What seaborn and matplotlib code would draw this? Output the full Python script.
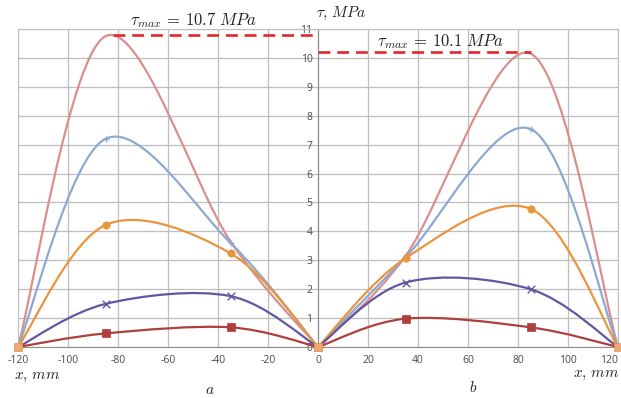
import matplotlib
matplotlib.use("Agg")
import matplotlib.pyplot as plt
import seaborn as sns
import pandas as pd
from matplotlib.path import Path
from matplotlib.patches import PathPatch

# data: panel a (left) and panel b (right)
x_left = [-120, -85, -35, 0]
x_right = [0, 35, 85, 120]

pink_left = [0, 10.75, 3.65, 0]
blue_left = [0, 7.2, 3.6, 0]
orange_left = [0, 4.22, 3.24, 0]
purple_left = [0, 1.49, 1.76, 0]
red_left = [0, 0.47, 0.68, 0]

pink_right = [0, 3.15, 10.15, 0]
blue_right = [0, 3.1, 7.54, 0]
orange_right = [0, 3.07, 4.78, 0]
purple_right = [0, 2.23, 2.0, 0]
red_right = [0, 0.98, 0.68, 0]

end_x = [-120, 0, 0, 120]
end_y = [0, 0, 0, 0]

tau_max_left = 10.8
tau_max_right = 10.2
peak_x_left = -82
peak_x_right = 85

x_ticks = list(range(-120, 121, 20))
y_ticks = list(range(0, 12))

series = [
    ("pink", "#D8908E", None, pink_left, pink_right),
    ("blue", "#8DA8D2", "+", blue_left, blue_right),
    ("orange", "#E9953D", "o", orange_left, orange_right),
    ("purple", "#6456A0", "x", purple_left, purple_right),
    ("red", "#AE3F3C", "s", red_left, red_right),
]


def smooth_path(xs, ys):
    # Excel-like smoothed line through the data points (cubic Bezier)
    pts = list(zip(xs, ys))
    n = len(pts)
    verts = [pts[0]]
    codes = [Path.MOVETO]
    for i in range(n - 1):
        p0 = pts[i - 1] if i > 0 else pts[i]
        p1 = pts[i]
        p2 = pts[i + 1]
        p3 = pts[i + 2] if i + 2 < n else pts[i + 1]
        c1 = (p1[0] + (p2[0] - p0[0]) / 6, p1[1] + (p2[1] - p0[1]) / 6)
        c2 = (p2[0] - (p3[0] - p1[0]) / 6, p2[1] - (p3[1] - p1[1]) / 6)
        verts += [c1, c2, p2]
        codes += [Path.CURVE4] * 3
    return Path(verts, codes)


sns.set_style("white")
plt.rcParams["font.family"] = ["Open Sans", "DejaVu Sans"]
plt.rcParams["mathtext.fontset"] = "cm"
plt.rcParams["axes.unicode_minus"] = False

fig = plt.figure(figsize=(6.21, 3.98), dpi=100)
ax = fig.add_axes([18 / 621, 51 / 398, 600 / 621, 318 / 398])
ax.set_xlim(-120, 120)
ax.set_ylim(0, 11)

ax.set_xticks(x_ticks)
ax.set_yticks(y_ticks)
ax.grid(True, color="#BEBEBE", lw=0.9)
ax.set_axisbelow(True)

for name, color, marker, yl, yr in series:
    for xs, ys in ((x_left, yl), (x_right, yr)):
        ax.add_patch(PathPatch(smooth_path(xs, ys), fill=False,
                               edgecolor=color, lw=1.6, zorder=3))
        if marker is not None:
            df = pd.DataFrame({"x": xs[1:3], "y": ys[1:3]})
            if marker in ("+", "x"):
                sns.scatterplot(data=df, x="x", y="y", marker=marker,
                                color=color, s=30 if marker == "x" else 25,
                                linewidth=1.0, ax=ax, zorder=4)
            else:
                sns.scatterplot(data=df, x="x", y="y", marker=marker,
                                color=color, s=28, edgecolor=color,
                                linewidth=0.5, ax=ax, zorder=4)

sns.scatterplot(x=end_x, y=end_y, marker="s", color="#F0A870", s=40,
                edgecolor="#E09060", linewidth=0.5, ax=ax, zorder=5,
                clip_on=False)

# red dashed lines at the maxima
ax.plot([peak_x_left, 0], [tau_max_left, tau_max_left], color="#E2262B",
        lw=1.9, dashes=(4.5, 2.6), zorder=6, clip_on=False)
ax.plot([0, peak_x_right], [tau_max_right, tau_max_right], color="#E2262B",
        lw=1.9, dashes=(4.5, 2.6), zorder=6, clip_on=False)

# axes through zero
ax.spines["left"].set_position(("data", 0))
ax.spines["left"].set_color("#8C8C8C")
ax.spines["bottom"].set_color("#8C8C8C")
for s in ("top", "right"):
    ax.spines[s].set_visible(True)
    ax.spines[s].set_color("#BEBEBE")
ax.axvline(-120, color="#BEBEBE", lw=1.2, zorder=1)

ax.tick_params(axis="both", colors="#4A4A4A", labelsize=7.5, length=0)
ax.tick_params(axis="y", pad=4)
ax.tick_params(axis="x", pad=6)
ax.set_xticklabels([str(t) for t in x_ticks])
ax.get_xticklabels()[-1].set_horizontalalignment("right")
ax.set_xlabel("")
ax.set_ylabel("")

ax.text(-50, 11.32, r"$\tau_{max}\,=\,10.7\ MPa$", ha="center", va="center",
        fontsize=12, color="#222222")
ax.text(49, 10.57, r"$\tau_{max}\,=\,10.1\ MPa$", ha="center", va="center",
        fontsize=12, color="#222222", zorder=7)
ax.text(-0.8, 11.55, r"$\tau,\,MPa$", ha="left", va="center", fontsize=11,
        color="#222222")

fig.text(14 / 621, 1 - 376 / 398, r"$x,\,mm$", ha="left", va="center",
         fontsize=11, color="#222222")
fig.text(619 / 621, 1 - 375 / 398, r"$x,\,mm$", ha="right", va="center",
         fontsize=11, color="#222222")
fig.text(210 / 621, 1 - 391 / 398, r"$a$", ha="center", va="center",
         fontsize=11, color="#222222")
fig.text(473 / 621, 1 - 388 / 398, r"$b$", ha="center", va="center",
         fontsize=11, color="#222222")

fig.savefig("out.png", dpi=100)
